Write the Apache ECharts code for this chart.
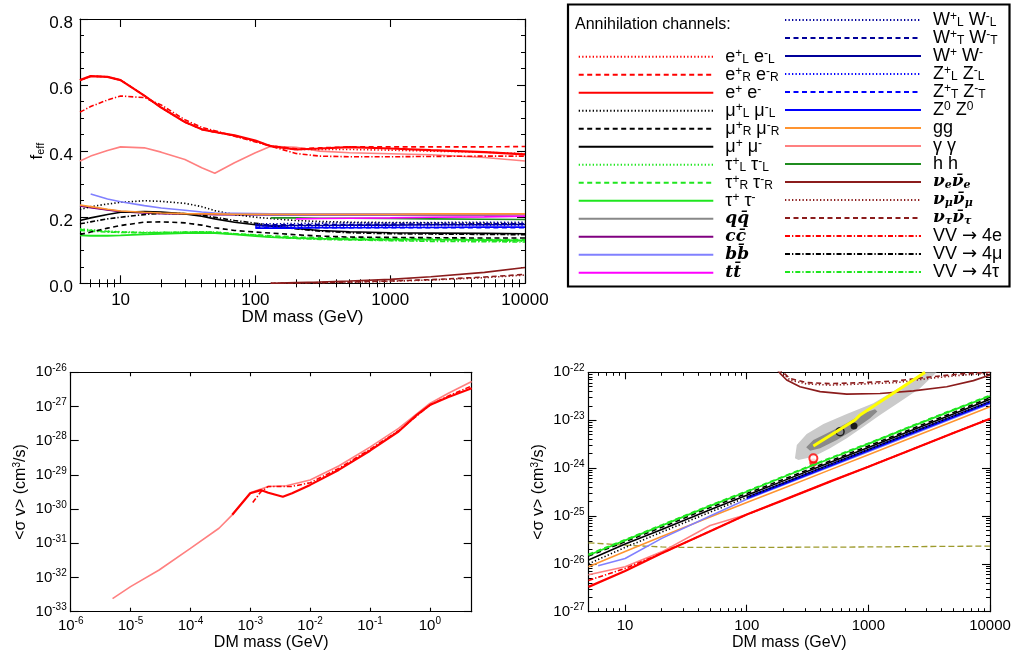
<!DOCTYPE html>
<html>
<head>
<meta charset="utf-8">
<script src="https://cdn.jsdelivr.net/npm/echarts@6/dist/echarts.min.js"></script>
<style>
  html, body { margin: 0; padding: 0; background: #fff; }
  #chart { width: 1013px; height: 657px; }
</style>
</head>
<body>
<div id="chart"></div>
<script>
const FONT = "Liberation Sans";
const N = null;

// ---- top panel: f_eff vs DM mass (GeV)
const massTop = [5, 6, 8, 10, 15, 20, 30, 40, 50, 70, 100, 130, 200, 300, 500, 1000, 2000, 5000, 10000];
const fEE = [0.615, 0.627, 0.625, 0.615, 0.568, 0.532, 0.488, 0.466, 0.458, 0.448, 0.432, 0.415, 0.405, 0.408, 0.412, 0.408, 0.403, 0.397, 0.39];
const fER = [0.615, 0.627, 0.625, 0.615, 0.568, 0.532, 0.488, 0.466, 0.458, 0.447, 0.43, 0.416, 0.407, 0.41, 0.413, 0.413, 0.413, 0.413, 0.414];
const fEL = [0.615, 0.627, 0.625, 0.615, 0.568, 0.532, 0.488, 0.466, 0.458, 0.447, 0.43, 0.415, 0.405, 0.405, 0.405, 0.403, 0.4, 0.397, 0.392];
const f4e = [0.518, 0.535, 0.555, 0.567, 0.562, 0.54, 0.495, 0.472, 0.462, 0.445, 0.428, 0.415, 0.393, 0.385, 0.383, 0.383, 0.384, 0.385, 0.385];
const fAA = [0.37, 0.385, 0.402, 0.413, 0.41, 0.397, 0.375, 0.35, 0.333, 0.365, 0.395, 0.415, 0.412, 0.4, 0.395, 0.392, 0.389, 0.381, 0.37];
const fMuMu = [0.19, 0.198, 0.208, 0.215, 0.217, 0.216, 0.21, 0.203, 0.195, 0.185, 0.177, 0.173, 0.166, 0.16, 0.156, 0.153, 0.152, 0.151, 0.15];
const fMuR = [0.148, 0.155, 0.167, 0.175, 0.185, 0.186, 0.183, 0.176, 0.168, 0.16, 0.155, 0.152, 0.147, 0.143, 0.14, 0.139, 0.138, 0.137, 0.137];
const fMuL = [0.223, 0.232, 0.24, 0.245, 0.25, 0.248, 0.242, 0.232, 0.22, 0.208, 0.2, 0.196, 0.19, 0.187, 0.185, 0.184, 0.183, 0.182, 0.181];
const f4mu = [0.18, 0.186, 0.195, 0.2, 0.208, 0.212, 0.211, 0.206, 0.2, 0.19, 0.182, 0.175, 0.165, 0.158, 0.153, 0.15, 0.149, 0.148, 0.147];
const fTauTau = [0.145, 0.144, 0.144, 0.145, 0.148, 0.15, 0.152, 0.153, 0.152, 0.148, 0.143, 0.14, 0.137, 0.135, 0.134, 0.133, 0.132, 0.131, 0.13];
const fTauR = [0.163, 0.16, 0.157, 0.155, 0.153, 0.153, 0.154, 0.155, 0.155, 0.15, 0.147, 0.144, 0.14, 0.138, 0.137, 0.135, 0.134, 0.133, 0.132];
const fTauL = [0.165, 0.162, 0.158, 0.156, 0.154, 0.154, 0.155, 0.156, 0.155, 0.15, 0.146, 0.142, 0.138, 0.134, 0.132, 0.13, 0.129, 0.128, 0.127];
const f4tau = [0.16, 0.158, 0.155, 0.154, 0.153, 0.154, 0.155, 0.155, 0.153, 0.149, 0.145, 0.14, 0.136, 0.133, 0.131, 0.129, 0.127, 0.126, 0.125];
const fQQ = [0.235, 0.23, 0.223, 0.218, 0.214, 0.212, 0.21, 0.209, 0.209, 0.208, 0.208, 0.208, 0.208, 0.208, 0.208, 0.208, 0.208, 0.208, 0.209];
const fCC = [0.234, 0.229, 0.222, 0.217, 0.213, 0.211, 0.21, 0.209, 0.208, 0.208, 0.208, 0.208, 0.208, 0.208, 0.208, 0.208, 0.208, 0.208, 0.208];
const fBB = [N, 0.27, 0.255, 0.247, 0.235, 0.228, 0.221, 0.216, 0.213, 0.212, 0.211, 0.21, 0.21, 0.21, 0.21, 0.21, 0.21, 0.21, 0.21];
const fGG = [0.237, 0.232, 0.224, 0.219, 0.215, 0.213, 0.211, 0.21, 0.21, 0.209, 0.209, 0.209, 0.209, 0.209, 0.209, 0.209, 0.21, 0.21, 0.21];
const fTT = [N, N, N, N, N, N, N, N, N, N, N, N, 0.195, 0.196, 0.197, 0.198, 0.2, 0.201, 0.203];
const fHH = [N, N, N, N, N, N, N, N, N, N, N, 0.198, 0.198, 0.197, 0.197, 0.196, 0.195, 0.194, 0.193];
const fWL = [N, N, N, N, N, N, N, N, N, N, 0.18, 0.18, 0.181, 0.182, 0.183, 0.183, 0.184, 0.185, 0.185];
const fWT = [N, N, N, N, N, N, N, N, N, N, 0.177, 0.177, 0.177, 0.178, 0.178, 0.179, 0.179, 0.18, 0.18];
const fWW = [N, N, N, N, N, N, N, N, N, N, 0.174, 0.174, 0.175, 0.175, 0.176, 0.176, 0.177, 0.177, 0.178];
const fZL = [N, N, N, N, N, N, N, N, N, N, 0.172, 0.172, 0.172, 0.172, 0.173, 0.173, 0.174, 0.175, 0.175];
const fZT = [N, N, N, N, N, N, N, N, N, N, 0.169, 0.169, 0.168, 0.168, 0.168, 0.168, 0.168, 0.168, 0.168];
const fZZ = [N, N, N, N, N, N, N, N, N, N, 0.167, 0.167, 0.167, 0.168, 0.168, 0.169, 0.169, 0.17, 0.17];
const fNuE = [N, N, N, N, N, N, N, N, N, N, N, 0.0, 0.002, 0.004, 0.007, 0.012, 0.02, 0.033, 0.048];
const fNuMu = [N, N, N, N, N, N, N, N, N, N, N, 0.0, 0.001, 0.002, 0.003, 0.006, 0.01, 0.017, 0.025];
const fNuTau = [N, N, N, N, N, N, N, N, N, N, N, 0.0, 0.001, 0.002, 0.004, 0.007, 0.011, 0.019, 0.027];

// ---- bottom left: <sigma v> (cm^3/s) at low mass
const blAaMass = [5e-6, 1e-5, 3e-5, 1e-4, 3e-4, 5e-4, 1e-3, 2e-3, 4e-3, 1e-2, 3e-2, 0.1, 0.3, 1, 2, 5];
const blAaSig = [2.4e-33, 5.4e-33, 1.66e-32, 7.1e-32, 2.75e-31, 6.8e-31, 3.0e-30, 4.6e-30, 4.8e-30, 7.1e-30, 1.82e-29, 6.5e-29, 2.3e-28, 1.23e-27, 2.4e-27, 5.4e-27];
const blEeMass = [5e-4, 1e-3, 1.5e-3, 2e-3, 3.5e-3, 5e-3, 1e-2, 3e-2, 0.1, 0.3, 0.6, 1, 2, 5];
const blEeSig = [6.8e-31, 2.9e-30, 3.6e-30, 3.0e-30, 2.3e-30, 2.9e-30, 5.1e-30, 1.4e-29, 5.1e-29, 1.86e-28, 5.6e-28, 1.1e-27, 1.86e-27, 3.4e-27];
const bl4eMass = [1.1e-3, 1.5e-3, 2e-3, 5e-3, 1e-2, 3e-2, 0.1, 0.3, 1, 2, 5];
const bl4eSig = [1.55e-30, 3.2e-30, 4.6e-30, 4.6e-30, 5.9e-30, 1.55e-29, 5.6e-29, 1.95e-28, 1.1e-27, 2.0e-27, 4.0e-27];

// ---- bottom right: <sigma v> limits 5 GeV - 10 TeV
const brMass = [5, 10, 20, 50, 100, 200, 500, 1000, 2000, 5000, 10000];
const brEE = [3.3e-27, 7.1e-27, 1.66e-26, 4.8e-26, 1.07e-25, 2.14e-25, 5.4e-25, 1.07e-24, 2.14e-24, 5.4e-24, 1.07e-23];
const br4e = [4.5e-27, 8.0e-27, 1.66e-26, 4.8e-26, 1.07e-25, 2.14e-25, 5.4e-25, 1.07e-24, 2.14e-24, 5.4e-24, 1.07e-23];
const brAA = [5.9e-27, 8.7e-27, 1.78e-26, 6.3e-26, 1.07e-25, 2.14e-25, 5.4e-25, 1.07e-24, 2.14e-24, 5.4e-24, 1.07e-23];
const brTau = [1.51e-26, 3.1e-26, 6.3e-26, 1.62e-25, 3.2e-25, 6.5e-25, 1.62e-24, 3.2e-24, 6.5e-24, 1.62e-23, 3.2e-23];
const brTauR = [1.58e-26, 3.2e-26, 6.5e-26, 1.68e-25, 3.3e-25, 6.7e-25, 1.68e-24, 3.3e-24, 6.7e-24, 1.68e-23, 3.3e-23];
const brMu = [1.2e-26, 2.6e-26, 5.2e-26, 1.35e-25, 2.7e-25, 5.4e-25, 1.35e-24, 2.7e-24, 5.4e-24, 1.35e-23, 2.75e-23];
const brMuR = [1.45e-26, 2.9e-26, 5.8e-26, 1.5e-25, 2.95e-25, 5.8e-25, 1.45e-24, 2.9e-24, 5.8e-24, 1.45e-23, 2.95e-23];
const brMuL = [1.0e-26, 2.2e-26, 4.6e-26, 1.2e-25, 2.45e-25, 4.9e-25, 1.22e-24, 2.45e-24, 4.9e-24, 1.22e-23, 2.45e-23];
const brGG = [8.7e-27, 1.8e-26, 3.7e-26, 9.5e-26, 1.9e-25, 3.8e-25, 9.5e-25, 1.9e-24, 3.8e-24, 9.5e-24, 1.9e-23];
const brWW = [N, N, N, N, 2.45e-25, 4.9e-25, 1.23e-24, 2.45e-24, 4.9e-24, 1.23e-23, 2.45e-23];
const brZZ = [N, N, N, N, 2.3e-25, 4.6e-25, 1.15e-24, 2.3e-24, 4.6e-24, 1.15e-23, 2.3e-23];
const brBbMass = [6, 10, 20, 50, 100, 1000, 10000];
const brBB = [9.1e-27, 1.29e-26, 3.4e-26, 1.0e-25, 2.24e-25, 2.2e-24, 2.2e-23];
const brNuEMass = [175, 188, 213, 274, 401, 664, 1247, 2344, 4406, 7300, 10000];
const brNuE = [1.2e-22, 9.5e-23, 6.9e-23, 5.0e-23, 3.95e-23, 3.5e-23, 3.6e-23, 4.1e-23, 5.0e-23, 6.7e-23, 8.8e-23];
const brNuMass = [180, 194, 227, 311, 484, 910, 1710, 3210, 6040, 10000];
const brNuMu = [1.15e-22, 1.0e-22, 6.9e-23, 5.7e-23, 5.4e-23, 5.7e-23, 6.1e-23, 7.5e-23, 8.8e-23, 9.5e-23];
const brNuTau = [1.2e-22, 1.05e-22, 7.4e-23, 6.1e-23, 5.8e-23, 6.1e-23, 6.6e-23, 8.0e-23, 9.4e-23, 1.0e-22];
const olMass = [5, 10, 20, 30, 100, 1000, 10000];
const olSig = [2.75e-26, 2.45e-26, 2.25e-26, 2.2e-26, 2.2e-26, 2.25e-26, 2.35e-26];
const yelMass = [353, 776, 855, 2924];
const yelSig = [2.89e-24, 1.01e-23, 1.29e-23, 1e-22];
const lightMass = [249, 258, 311, 427, 664, 1099, 1507, 2065, 2831, 3648, 2661, 1820, 1247, 910, 664, 484, 353, 266];
const lightSig = [1.6e-24, 3.03e-24, 5.15e-24, 8.34e-24, 1.35e-23, 2.25e-23, 3.65e-23, 5.89e-23, 1e-22, 1e-22, 4.63e-23, 2.43e-23, 1.29e-23, 7.31e-24, 4.19e-24, 2.59e-24, 1.73e-24, 1.48e-24];
const darkMass = [308, 353, 484, 664, 910, 1135, 1186, 1033, 753, 550, 401, 332];
const darkSig = [2.72e-24, 3.86e-24, 5.75e-24, 8.61e-24, 1.39e-23, 1.69e-23, 1.51e-23, 1.10e-23, 6.24e-24, 3.86e-24, 2.59e-24, 2.31e-24];
const ptOpen = [585, 5.75e-24], ptFull = [762, 7.6e-24], ptRedFull = [353, 1.3e-24], ptRedOpen = [353, 1.6e-24];

// ---- ticks (sigma axes as powers of ten)
const ticksTopX = [10, 100, 1000, 10000];
const ticksBLX = [1e-6, 1e-5, 1e-4, 1e-3, 1e-2, 1e-1, 1];
const expBLY = [-33, -32, -31, -30, -29, -28, -27, -26];
const expBRY = [-27, -26, -25, -24, -23, -22];

// sigma values are plotted in units of 1e-30 cm^3/s (keeps the log axis away from float rounding)
const UEXP = -30;
const sc = v => v / Math.pow(10, UEXP);
const ePow = e => Math.pow(10, e - UEXP);

function logMinor(min, max) {
  const out = [];
  for (let e = Math.floor(Math.log10(min)); e <= Math.ceil(Math.log10(max)); e++) {
    for (let k = 2; k <= 9; k++) {
      const v = k * Math.pow(10, e);
      if (v > min * 1.0001 && v < max * 0.9999) out.push(v);
    }
  }
  return out;
}

// line styles
const DASH = { s: "solid", d: [5, 3.5], o: [1.3, 2.2], dd: [5, 2, 1.3, 2] };
const STYLE = {
  eL: ["#ff0000", "o"], eR: ["#ff0000", "d"], ee: ["#ff0000", "s", 2.2],
  muL: ["#000000", "o"], muR: ["#000000", "d"], mumu: ["#000000", "s"],
  tauL: ["#1ee61e", "o"], tauR: ["#1ee61e", "d"], tautau: ["#1ee61e", "s", 1.8],
  qq: ["#888888", "s"], cc: ["#800080", "s"], bb: ["#8080ff", "s"], tt: ["#ff00ff", "s"],
  WL: ["#00009a", "o"], WT: ["#00009a", "d"], WW: ["#00009a", "s"],
  ZL: ["#0000ff", "o"], ZT: ["#0000ff", "d"], ZZ: ["#0000ff", "s"],
  gg: ["#ff9430", "s"], aa: ["#ff8080", "s"], hh: ["#1f8c1f", "s"],
  nue: ["#8b1c1c", "s"], numu: ["#8b1c1c", "o"], nutau: ["#8b1c1c", "d"],
  vv4e: ["#ff0000", "dd"], vv4mu: ["#000000", "dd"], vv4tau: ["#1ee61e", "dd"]
};
const LABELS = {
  eL: "e{p|+}{b|L} e{p|-}{b|L}", eR: "e{p|+}{b|R} e{p|-}{b|R}", ee: "e{p|+} e{p|-}",
  muL: "μ{p|+}{b|L} μ{p|-}{b|L}", muR: "μ{p|+}{b|R} μ{p|-}{b|R}", mumu: "μ{p|+} μ{p|-}",
  tauL: "τ{p|+}{b|L} τ{p|-}{b|L}", tauR: "τ{p|+}{b|R} τ{p|-}{b|R}", tautau: "τ{p|+} τ{p|-}",
  qq: "{it|qq\u0304}", cc: "{it|cc\u0304}", bb: "{it|bb\u0304}", tt: "{it|tt\u0304}",
  WL: "W{p|+}{b|L} W{p|-}{b|L}", WT: "W{p|+}{b|T} W{p|-}{b|T}", WW: "W{p|+} W{p|-}",
  ZL: "Z{p|+}{b|L} Z{p|-}{b|L}", ZT: "Z{p|+}{b|T} Z{p|-}{b|T}", ZZ: "Z{p|0} Z{p|0}",
  gg: "gg", aa: "γ γ", hh: "h h",
  nue: "{it|ν}{itb|e}{it|ν\u0304}{itb|e}", numu: "{it|ν}{itb|μ}{it|ν\u0304}{itb|μ}", nutau: "{it|ν}{itb|τ}{it|ν\u0304}{itb|τ}",
  vv4e: "VV {ar|→} 4e", vv4mu: "VV {ar|→} 4μ", vv4tau: "VV {ar|→} 4τ"
};
const leftNames = ["eL", "eR", "ee", "muL", "muR", "mumu", "tauL", "tauR", "tautau", "qq", "cc", "bb", "tt"];
const rightNames = ["WL", "WT", "WW", "ZL", "ZT", "ZZ", "gg", "aa", "hh", "nue", "numu", "nutau", "vv4e", "vv4mu", "vv4tau"];

// ---- axes
const xAxis = [], yAxis = [];
function addAxis(list, dim, g, c) {
  const sides = dim === "x" ? ["bottom", "top"] : ["left", "right"];
  const idx = list.length;
  sides.forEach((side, k) => {
    const main = k === 0;
    list.push({
      gridIndex: g, type: c.type, min: c.min, max: c.max, interval: c.interval, position: side,
      axisLine: { show: true, onZero: false, lineStyle: { color: "#000", width: 1.2 } },
      axisTick: { show: true, inside: true, length: c.tickLen, customValues: c.major, lineStyle: { color: "#000", width: 1.1 } },
      minorTick: c.minorSplit ? { show: true, splitNumber: c.minorSplit, length: c.minorLen, lineStyle: { color: "#000", width: 1 } } : { show: false },
      axisLabel: main ? Object.assign({ color: "#000", fontFamily: FONT, customValues: c.major }, c.label) : { show: false },
      splitLine: { show: false },
      name: main ? c.name : null,
      nameLocation: "middle", nameGap: c.nameGap, nameRotate: dim === "y" ? 90 : 0,
      nameTextStyle: c.nameStyle, nameMoveOverlap: false, silent: true
    });
    if (c.minor) {
      list.push({
        gridIndex: g, type: c.type, min: c.min, max: c.max, position: side,
        axisLine: { show: false },
        axisTick: { show: true, inside: true, length: c.minorLen, customValues: c.minor, lineStyle: { color: "#000", width: 1 } },
        axisLabel: { show: false }, splitLine: { show: false }, silent: true
      });
    }
  });
  return idx;
}
function logLabel(size, margin, shift) {
  return {
    fontSize: size, margin: margin, lineHeight: 18,
    formatter: v => "10{s|" + (Math.round(Math.log10(v)) + shift) + "}",
    rich: { s: { fontSize: 10, lineHeight: 10, verticalAlign: "top", fontFamily: FONT, color: "#000" } }
  };
}
const xName = size => ({ fontFamily: FONT, fontSize: size, color: "#000" });
const sigName = { fontFamily: FONT, fontSize: 16, color: "#000", rich: { s: { fontSize: 10, lineHeight: 10, verticalAlign: "top", fontFamily: FONT } } };

const tx = addAxis(xAxis, "x", 0, { type: "log", min: 5, max: 10000, major: ticksTopX, minor: logMinor(5, 10000), tickLen: 8, minorLen: 4,
  label: { fontSize: 17, margin: 9, formatter: v => String(v) }, name: "DM mass (GeV)", nameGap: 26, nameStyle: xName(17) });
const ty = addAxis(yAxis, "y", 0, { type: "value", min: 0, max: 0.8, interval: 0.2, minorSplit: 4, tickLen: 8, minorLen: 4,
  label: { fontSize: 17, margin: 7, verticalAlign: "top", lineHeight: 9, formatter: v => v.toFixed(1) }, name: "f{s|eff}", nameGap: 34,
  nameStyle: { fontFamily: FONT, fontSize: 17, color: "#000", rich: { s: { fontSize: 11, lineHeight: 11, verticalAlign: "bottom", fontFamily: FONT } } } });
const lx = addAxis(xAxis, "x", 1, { type: "log", min: 1e-6, max: 5, major: ticksBLX, tickLen: 4,
  label: logLabel(15, 5, 0), name: "DM mass (GeV)", nameGap: 23, nameStyle: xName(16) });
const ly = addAxis(yAxis, "y", 1, { type: "log", min: ePow(-33), max: ePow(-26), major: expBLY.map(ePow), tickLen: 8,
  label: logLabel(15, 4, UEXP), name: "<σ v> (cm{s|3}/s)", nameGap: 42, nameStyle: sigName });
const rx = addAxis(xAxis, "x", 2, { type: "log", min: 5, max: 10000, major: ticksTopX, minor: logMinor(5, 10000), tickLen: 7, minorLen: 3.5,
  label: { fontSize: 15, margin: 7, formatter: v => String(v) }, name: "DM mass (GeV)", nameGap: 23, nameStyle: xName(16) });
const ry = addAxis(yAxis, "y", 2, { type: "log", min: ePow(-27), max: ePow(-22), major: expBRY.map(ePow), minor: logMinor(ePow(-27), ePow(-22)), tickLen: 8, minorLen: 4,
  label: logLabel(15, 4, UEXP), name: "<σ v> (cm{s|3}/s)", nameGap: 42, nameStyle: sigName });

// ---- series
function pairs(xs, ys, f) {
  const out = [];
  xs.forEach((x, i) => { if (ys[i] != null) out.push([x, f ? f(ys[i]) : ys[i]]); });
  return out;
}
function line(name, xi, yi, data) {
  const st = STYLE[name];
  return {
    type: "line", name, xAxisIndex: xi, yAxisIndex: yi, data, symbol: "none",
    smooth: false, clip: true, color: st[0],
    lineStyle: { color: st[0], width: st[2] || 1.6, type: DASH[st[1]] },
    emphasis: { disabled: true }
  };
}
function extra(data, color, width, type) {
  return { type: "line", xAxisIndex: rx, yAxisIndex: ry, data, symbol: "none", clip: true,
    lineStyle: { color, width, type }, emphasis: { disabled: true }, silent: true };
}
function region(xs, ys, fill) {
  return {
    type: "custom", xAxisIndex: rx, yAxisIndex: ry, data: [0], silent: true, clip: true,
    renderItem: (params, api) => ({
      type: "polygon",
      shape: { points: xs.map((m, i) => api.coord([m, sc(ys[i])])) },
      style: { fill: fill }
    })
  };
}
function dot(p, size, style) {
  return { type: "scatter", xAxisIndex: rx, yAxisIndex: ry, silent: true, data: [[p[0], sc(p[1])]], symbolSize: size, itemStyle: style };
}

const topData = {
  qq: fQQ, cc: fCC, nue: fNuE, numu: fNuMu, nutau: fNuTau, tauL: fTauL, tauR: fTauR, vv4tau: f4tau, tautau: fTauTau,
  muL: fMuL, muR: fMuR, vv4mu: f4mu, mumu: fMuMu, WL: fWL, WT: fWT, WW: fWW, ZL: fZL, ZT: fZT, ZZ: fZZ,
  hh: fHH, tt: fTT, bb: fBB, gg: fGG, aa: fAA, eL: fEL, eR: fER, vv4e: f4e, ee: fEE
};
const series = [];
Object.keys(topData).forEach(k => series.push(line(k, tx, ty, pairs(massTop, topData[k]))));

series.push(line("aa", lx, ly, pairs(blAaMass, blAaSig, sc)));
series.push(line("vv4e", lx, ly, pairs(bl4eMass, bl4eSig, sc)));
series.push(line("ee", lx, ly, pairs(blEeMass, blEeSig, sc)));

series.push(region(lightMass, lightSig, "#cacaca"));
series.push(region(darkMass, darkSig, "#8a8a8a"));
series.push(extra(pairs(olMass, olSig, sc), "#9d9a2c", 1.3, [6, 3]));
const brSet = [
  ["gg", brMass, brGG], ["bb", brBbMass, brBB], ["ZZ", brMass, brZZ], ["WW", brMass, brWW],
  ["muL", brMass, brMuL], ["mumu", brMass, brMu], ["muR", brMass, brMuR], ["tauR", brMass, brTauR], ["tautau", brMass, brTau],
  ["aa", brMass, brAA], ["vv4e", brMass, br4e], ["ee", brMass, brEE],
  ["nue", brNuEMass, brNuE], ["numu", brNuMass, brNuMu], ["nutau", brNuMass, brNuTau]
];
brSet.forEach(s => series.push(line(s[0], rx, ry, pairs(s[1], s[2], sc))));
series.push(extra(pairs(yelMass, yelSig, sc), "#ffff00", 3, "solid"));
series.push(dot(ptOpen, 8, { color: "transparent", borderColor: "#000", borderWidth: 1.5 }));
series.push(dot(ptFull, 7, { color: "#000" }));
series.push(dot(ptRedFull, 8, { color: "#ff0000" }));
series.push(dot(ptRedOpen, 8, { color: "#fff", borderColor: "#ff0000", borderWidth: 2 }));

const legendText = {
  fontFamily: FONT, fontSize: 18, color: "#000", lineHeight: 18,
  rich: {
    g: { width: 7 },
    p: { fontSize: 12, lineHeight: 12, verticalAlign: "top", fontFamily: FONT },
    b: { fontSize: 12, lineHeight: 12, verticalAlign: "bottom", fontFamily: FONT },
    ar: { fontSize: 18, lineHeight: 18, fontFamily: "DejaVu Sans" },
    it: { fontSize: 17, lineHeight: 18, fontFamily: "DejaVu Serif", fontStyle: "italic", fontWeight: "bold" },
    itb: { fontSize: 11, lineHeight: 11, verticalAlign: "bottom", fontFamily: "DejaVu Serif", fontStyle: "italic", fontWeight: "bold" }
  }
};
function legendAt(names, left, top, width) {
  return {
    data: names, orient: "vertical", left, top, padding: 0, itemGap: 0,
    itemWidth: width, itemHeight: 10, selectedMode: false,
    itemStyle: { opacity: 0 },
    textStyle: legendText,
    formatter: name => "{g| }" + LABELS[name]
  };
}

const chart = echarts.init(document.getElementById("chart"), null, { renderer: "canvas" });
chart.setOption({
  animation: false,
  backgroundColor: "#fff",
  textStyle: { fontFamily: FONT },
  grid: [
    { left: 80, top: 19, width: 445, height: 264.3, outerBoundsMode: "none" },
    { left: 70.7, top: 372.3, width: 401, height: 239.4, outerBoundsMode: "none" },
    { left: 588.5, top: 372.3, width: 401.5, height: 239.4, outerBoundsMode: "none" }
  ],
  title: { text: "Annihilation channels:", left: 575, top: 17, padding: 0,
    textStyle: { fontFamily: FONT, fontSize: 16, fontWeight: "normal", color: "#000" } },
  legend: [legendAt(leftNames, 577.7, 47.7, 134.6), legendAt(rightNames, 784, 11, 136)],
  graphic: [{ type: "rect", silent: true, shape: { x: 568, y: 4.5, width: 441.5, height: 282 },
    style: { fill: "none", stroke: "#000", lineWidth: 2.2 } }],
  xAxis, yAxis, series
});
</script>
</body>
</html>
